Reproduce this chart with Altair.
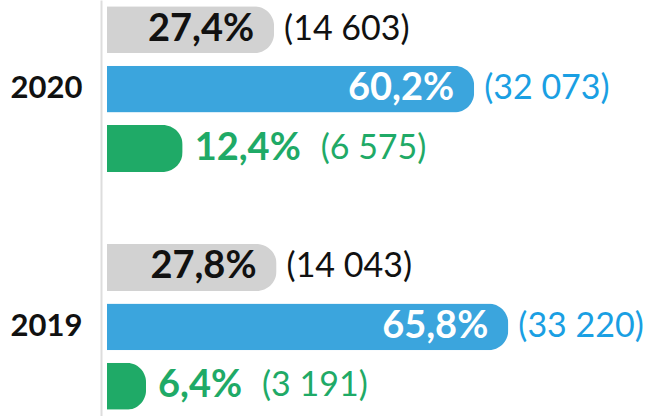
import altair as alt
import pandas as pd

# ---- data ----
years = ["2020", "2020", "2020", "2019", "2019", "2019"]
groups = ["a", "b", "c", "a", "b", "c"]          # a = grey, b = blue, c = green
shares = [27.4, 60.2, 12.4, 27.8, 65.8, 6.4]      # percent
counts = [14603, 32073, 6575, 14043, 33220, 3191]

slot_order = ["2020-a", "2020-b", "2020-c", "gap", "2019-a", "2019-b", "2019-c"]

df = pd.DataFrame({
    "year": years,
    "grp": groups,
    "share": shares,
    "count": counts,
})
df["slot"] = df["year"] + "-" + df["grp"]
df["pct_label"] = df["share"].map(lambda v: f"{v:.1f}".replace(".", ",") + "%")
df["cnt_label"] = df["count"].map(lambda v: "(" + f"{v:,}".replace(",", " ") + ")")

FONT = "Lato"
bar_colors = ["#d2d2d2", "#3ba5dd", "#1faa67"]
inner_text_colors = ["#111111", "#ffffff", "#1faa67"]
count_colors = ["#111111", "#1a9fe3", "#1faa67"]

y_enc = alt.Y(
    "slot:N",
    scale=alt.Scale(domain=slot_order, paddingInner=0.21, paddingOuter=0.105),
    axis=alt.Axis(
        title=None, ticks=False, tickSize=0, grid=False,
        labelExpr="indexof(datum.value, '-b') > 0 ? slice(datum.value, 0, 4) : ''",
        labelFont=FONT, labelFontWeight="bold", labelFontSize=31, labelColor="#111111",
        labelPadding=19, domainColor="#dddddd", domainWidth=2, offset=6,
    ),
)
x_enc = alt.X("share:Q", scale=alt.Scale(domain=[0, 91]), axis=None)

base = alt.Chart(df).encode(y=y_enc, x=x_enc)

bars = base.mark_bar(cornerRadiusEnd=20).encode(
    color=alt.Color("grp:N", scale=alt.Scale(domain=["a", "b", "c"], range=bar_colors), legend=None)
)

inside = base.transform_filter("datum.grp != 'c'").mark_text(
    align="right", baseline="middle", dx=-20, font=FONT, fontWeight="bold", fontSize=38
).encode(
    text="pct_label:N",
    color=alt.Color("grp:N", scale=alt.Scale(domain=["a", "b", "c"], range=inner_text_colors), legend=None),
)

green_pct = base.transform_filter("datum.grp == 'c'").mark_text(
    align="left", baseline="middle", dx=12, font=FONT, fontWeight="bold", fontSize=38,
    color="#1faa67",
).encode(text="pct_label:N")

counts_txt = base.transform_filter("datum.grp != 'c'").mark_text(
    align="left", baseline="middle", dx=10, font=FONT, fontSize=34
).encode(
    text="cnt_label:N",
    color=alt.Color("grp:N", scale=alt.Scale(domain=["a", "b", "c"], range=count_colors), legend=None),
)

green_counts = base.transform_filter("datum.grp == 'c'").mark_text(
    align="left", baseline="middle", font=FONT, fontSize=34, color="#1faa67",
    dx=alt.ExprRef("12 + 22 * (length(datum.pct_label) - 2) + 38 + 22"),
).encode(text="cnt_label:N")

chart = alt.layer(bars, inside, green_pct, counts_txt, green_counts).resolve_scale(
    color="independent"
).properties(
    width=555, height=416,
    autosize=alt.AutoSizeParams(type="none"),
    padding={"left": 107, "top": 0, "right": 0, "bottom": 0},
    background="white",
).configure_view(stroke=None)

chart.save("out.html", embed_options={"renderer": "svg", "actions": False})
